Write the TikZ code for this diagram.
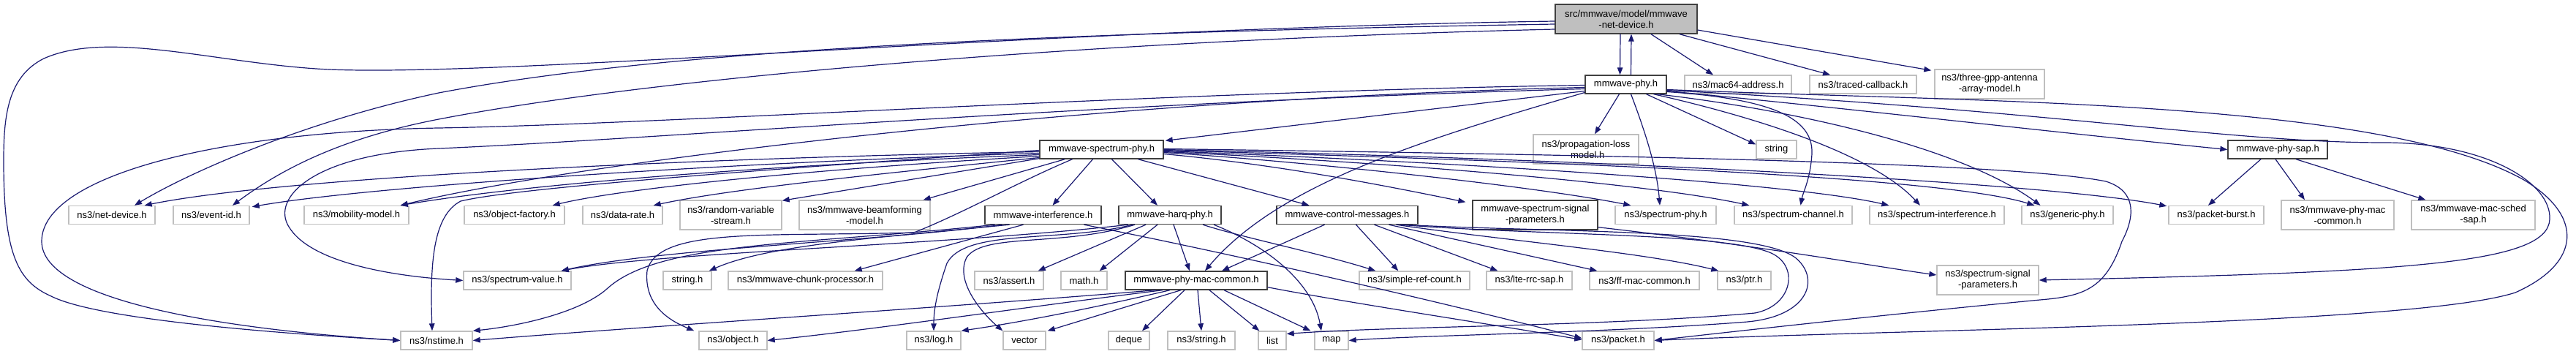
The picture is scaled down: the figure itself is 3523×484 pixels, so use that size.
\documentclass[tikz,border=0pt]{standalone}
\usepackage{fontspec}
\setmainfont{Liberation Sans}
\usetikzlibrary{arrows.meta, calc}
\definecolor{edgeblue}{RGB}{25,25,112}
\definecolor{boxgray}{RGB}{191,191,191}
\definecolor{boxdark}{RGB}{64,64,64}
\tikzset{
  extfile/.style={
    rectangle, draw=boxgray, line width=1.4pt,
    minimum height=25pt, inner sep=0pt,
    align=center, font=\fontsize{13}{15}\selectfont
  },
  ownfile/.style={extfile, draw=boxdark},
  rootfile/.style={ownfile, fill=boxgray},
  tall/.style={minimum height=40pt},
  incl/.style={line width=1.2pt, draw=edgeblue, -{Triangle[length=10pt, width=7.5pt]}},
}

\begin{document}
\begin{tikzpicture}[x=1pt, y=-1pt]
  \useasboundingbox (0,0) rectangle (3523,484);

  % top rows
  \node (root)      [rootfile, tall, minimum width=194pt] at (2224,26)     {src/mmwave/model/mmwave\\-net-device.h};
  \node (phy)       [ownfile, minimum width=111pt]        at (2223.5,115.5) {mmwave-phy.h};
  \node (mac64)     [extfile, minimum width=146pt]        at (2377,115.5)  {ns3/mac64-address.h};
  \node (traced)    [extfile, minimum width=146pt]        at (2548,115.5)  {ns3/traced-callback.h};
  \node (threegpp)  [extfile, tall, minimum width=150pt]  at (2721,115)    {ns3/three-gpp-antenna\\-array-model.h};
  \node (mmspecphy) [ownfile, minimum width=169pt]        at (1506.5,204.5) {mmwave-spectrum-phy.h};
  \node (proploss)  [extfile, tall, minimum width=144pt]  at (2169,204)    {ns3/propagation-loss\\-model.h};
  \node (stringstd) [extfile, minimum width=55pt]         at (2429.5,204.5) {string};
  \node (physap)    [ownfile, minimum width=136pt]        at (3115,204.5)  {mmwave-phy-sap.h};

  % third row
  \node (netdev)      [extfile, minimum width=118pt]       at (153,294)    {ns3/net-device.h};
  \node (eventid)     [extfile, minimum width=104pt]       at (289,294)    {ns3/event-id.h};
  \node (mobility)    [extfile, minimum width=143pt]       at (487.5,294)  {ns3/mobility-model.h};
  \node (objfactory)  [extfile, minimum width=137pt]       at (703.5,294)  {ns3/object-factory.h};
  \node (datarate)    [extfile, minimum width=109pt]       at (851.5,294)  {ns3/data-rate.h};
  \node (randvar)     [extfile, tall, minimum width=139pt] at (999.5,294)  {ns3/random-variable\\-stream.h};
  \node (beamform)    [extfile, tall, minimum width=179pt] at (1182.5,294) {ns3/mmwave-beamforming\\-model.h};
  \node (interf)      [ownfile, minimum width=159pt]       at (1426.5,294) {mmwave-interference.h};
  \node (harq)        [ownfile, minimum width=140pt]       at (1600,294)   {mmwave-harq-phy.h};
  \node (ctrlmsg)     [ownfile, minimum width=193pt]       at (1842.5,294) {mmwave-control-messages.h};
  \node (mmsigparams) [ownfile, tall, minimum width=171pt] at (2099.5,294) {mmwave-spectrum-signal\\-parameters.h};
  \node (specphy)     [extfile, minimum width=138pt]       at (2278,294)   {ns3/spectrum-phy.h};
  \node (specchan)    [extfile, minimum width=161pt]       at (2452.5,294) {ns3/spectrum-channel.h};
  \node (specintf)    [extfile, minimum width=184pt]       at (2649,294)   {ns3/spectrum-interference.h};
  \node (genphy)      [extfile, minimum width=125pt]       at (2827.5,294) {ns3/generic-phy.h};
  \node (packetburst) [extfile, minimum width=130pt]       at (3031,294)   {ns3/packet-burst.h};
  \node (nsphymac)    [extfile, tall, minimum width=154pt] at (3197,294)   {ns3/mmwave-phy-mac\\-common.h};
  \node (schedsap)    [extfile, tall, minimum width=169pt] at (3382.5,294) {ns3/mmwave-mac-sched\\-sap.h};

  % fourth row
  \node (specvalue)  [extfile, minimum width=147pt]       at (707.5,383.5)  {ns3/spectrum-value.h};
  \node (stringh)    [extfile, minimum width=66pt]        at (940,383.5)    {string.h};
  \node (chunkproc)  [extfile, minimum width=211pt]       at (1101.5,383.5) {ns3/mmwave-chunk-processor.h};
  \node (assert)     [extfile, minimum width=94pt]        at (1380,383.5)   {ns3/assert.h};
  \node (math)       [extfile, minimum width=63pt]        at (1482.5,383.5) {math.h};
  \node (phymac)     [ownfile, minimum width=194pt]       at (1636,383.5)   {mmwave-phy-mac-common.h};
  \node (simplerc)   [extfile, minimum width=151pt]       at (1934.5,383.5) {ns3/simple-ref-count.h};
  \node (lterrc)     [extfile, minimum width=117pt]       at (2091.5,383.5) {ns3/lte-rrc-sap.h};
  \node (ffmac)      [extfile, minimum width=150pt]       at (2249,383.5)   {ns3/ff-mac-common.h};
  \node (ptr)        [extfile, minimum width=73pt]        at (2385.5,383.5) {ns3/ptr.h};
  \node (sigparams)  [extfile, tall, minimum width=139pt] at (2718.5,383)   {ns3/spectrum-signal\\-parameters.h};

  % bottom row
  \node (nstime)   [extfile, minimum width=98pt] at (597,465.5)  {ns3/nstime.h};
  \node (object)   [extfile, minimum width=93pt] at (1002.5,465.5) {ns3/object.h};
  \node (log)      [extfile, minimum width=74pt] at (1277,465.5) {ns3/log.h};
  \node (vector)   [extfile, minimum width=58pt] at (1401,465.5) {vector};
  \node (deque)    [extfile, minimum width=56pt] at (1544,465.5) {deque};
  \node (nsstring) [extfile, minimum width=92pt] at (1643,465.5) {ns3/string.h};
  \node (list)     [extfile, minimum width=38pt] at (1740,465.5) {list};
  \node (map)      [extfile, minimum width=46pt] at (1821,465.5) {map};
  \node (packet)   [extfile, minimum width=98pt] at (2213,465.5) {ns3/packet.h};

  % mmwave-net-device.h
  \draw [incl] ($(root.south)+(-8,0)$) -- ($(phy.north)+(-8,0)$);
  \draw [incl] ($(root.south)+(34,0)$) -- ($(mac64.north)+(-34,0)$);
  \draw [incl] ($(root.south)+(73,0)$) -- ($(traced.north)+(-45,0)$);
  \draw [incl] ($(root.east)+(0,15)$) -- ($(threegpp.north west)+(-4,2)$);
  \draw [incl] ($(root.west)+(0,3)$) .. controls (1400,40) and (700,105) .. (450,95)
    .. controls (300,88) and (150,40) .. (60,80) .. controls (10,105) and (5,160) .. (5,220)
    .. controls (5,350) and (25,385) .. (70,405) .. controls (140,440) and (420,458) .. (nstime.west);
  \draw [incl] ($(root.west)+(0,7)$) .. controls (1400,45) and (900,70) .. (600,127)
    .. controls (420,165) and (260,235) .. ($(netdev.north)+(31,0)$);
  \draw [incl] ($(root.west)+(0,14)$) .. controls (1500,55) and (900,105) .. (600,163)
    .. controls (460,190) and (380,235) .. ($(eventid.north)+(29,0)$);

  % mmwave-phy.h
  \draw [incl] ($(phy.north)+(7,0)$) -- ($(root.south)+(7,0)$);
  \draw [incl] ($(phy.west)+(0,9)$) -- ($(mmspecphy.north east)+(2,1)$);
  \draw [incl] ($(phy.west)+(0,1)$) .. controls (1600,125) and (900,170) .. (600,175)
    .. controls (300,180) and (57,240) .. (57,330) .. controls (57,410) and (300,450) .. (nstime.west);
  \draw [incl] ($(phy.west)+(0,6)$) .. controls (1500,140) and (900,190) .. (600,203)
    .. controls (430,210) and (370,270) .. (395,310) .. controls (425,360) and (540,378) .. (specvalue.west);
  \draw [incl] ($(phy.west)+(0,4)$) .. controls (1500,135) and (800,220) .. ($(mobility.north east)+(-12,0)$);
  \draw [incl] ($(phy.west)+(0,11)$) .. controls (1950,190) and (1750,250) .. ($(phymac.north)+(12,0)$);
  \draw [incl] ($(phy.south)+(-9,0)$) -- ($(proploss.north)+(12,0)$);
  \draw [incl] ($(phy.south)+(7,0)$) .. controls (2250,180) and (2266,230) .. ($(specphy.north)+(-8,0)$);
  \draw [incl] ($(phy.south)+(28,0)$) -- ($(stringstd.west)+(0,-7)$);
  \draw [incl] ($(phy.east)+(0,10)$) .. controls (2420,135) and (2480,160) .. (2478,210)
    .. controls (2476,245) and (2466,262) .. ($(specchan.north)+(10,0)$);
  \draw [incl] ($(phy.south)+(38,0)$) .. controls (2400,160) and (2560,210) .. ($(specintf.north)+(-23,0)$);
  \draw [incl] ($(phy.south)+(43,0)$) .. controls (2450,150) and (2680,200) .. ($(genphy.north)+(-37,0)$);
  \draw [incl] ($(phy.east)+(0,9)$) .. controls (2500,145) and (2800,180) .. (physap.west);
  \draw [incl] ($(phy.east)+(0,7)$) .. controls (2700,140) and (3250,135) .. (3450,245)
    .. controls (3535,295) and (3530,360) .. (3440,400) .. controls (3300,445) and (2600,450) .. (packet.east);
  \draw [incl] ($(phy.east)+(0,8)$) .. controls (2800,150) and (3050,195) .. (3260,195)
    .. controls (3400,195) and (3490,250) .. (3487,300) .. controls (3484,360) and (3300,372) .. (sigparams.east);

  % mmwave-phy-sap.h
  \draw [incl] ($(physap.south)+(-23,0)$) -- ($(packetburst.north)+(-11,0)$);
  \draw [incl] ($(physap.south)+(-3,0)$) -- ($(nsphymac.north)+(-45,0)$);
  \draw [incl] ($(physap.south)+(25,0)$) -- ($(schedsap.north west)+(20,0)$);

  % mmwave-spectrum-phy.h
  \draw [incl] ($(mmspecphy.west)+(0,3)$) .. controls (1000,215) and (400,240) .. ($(netdev.north east)+(-15,0)$);
  \draw [incl] ($(mmspecphy.west)+(0,5)$) .. controls (1000,222) and (500,255) .. ($(eventid.north east)+(3,2)$);
  \draw [incl] ($(mmspecphy.west)+(0,7)$) .. controls (1000,228) and (700,255) .. ($(mobility.north east)+(-12,0)$);
  \draw [incl] ($(mmspecphy.west)+(0,9)$) .. controls (1100,232) and (850,258) .. ($(objfactory.north east)+(-17,0)$);
  \draw [incl] ($(mmspecphy.west)+(0,11)$) .. controls (1200,238) and (1000,258) .. ($(datarate.north east)+(-13,0)$);
  \draw [incl] ($(mmspecphy.south west)+(0,-1)$) -- ($(randvar.north east)+(0,1)$);
  \draw [incl] ($(mmspecphy.south west)+(35,0)$) -- ($(beamform.north east)+(-10,0)$);
  \draw [incl] ($(mmspecphy.west)+(0,1)$) .. controls (1000,235) and (700,258) .. (630,275)
    .. controls (592,295) and (588,360) .. ($(nstime.north)+(-6,0)$);
  \draw [incl] ($(mmspecphy.south)+(-40,0)$) .. controls (1390,250) and (1320,290) .. (1250,318)
    .. controls (1050,324) and (900,310) .. (885,370) .. controls (880,420) and (920,440) .. ($(object.north west)+(-6,0)$);
  \draw [incl] ($(mmspecphy.south)+(-12,0)$) -- ($(interf.north)+(13,0)$);
  \draw [incl] ($(mmspecphy.south)+(14,0)$) -- ($(harq.north)+(-17,0)$);
  \draw [incl] ($(mmspecphy.south)+(50,0)$) -- ($(ctrlmsg.north)+(-52,0)$);
  \draw [incl] ($(mmspecphy.east)+(0,6)$) .. controls (1750,225) and (1900,255) .. ($(mmsigparams.north west)+(-9,3)$);
  \draw [incl] ($(mmspecphy.east)+(0,4)$) .. controls (1800,222) and (2100,255) .. ($(specphy.north west)+(22,0)$);
  \draw [incl] ($(mmspecphy.east)+(0,3)$) .. controls (1900,222) and (2250,250) .. ($(specchan.north west)+(21,0)$);
  \draw [incl] ($(mmspecphy.east)+(0,2)$) .. controls (2000,222) and (2450,250) .. ($(specintf.north west)+(27,0)$);
  \draw [incl] ($(mmspecphy.east)+(0,1)$) .. controls (2100,220) and (2650,240) .. ($(genphy.north west)+(18,0)$);
  \draw [incl] (mmspecphy.east) .. controls (2200,218) and (2800,250) .. ($(packetburst.north west)+(-2,1)$);
  \draw [incl] ($(mmspecphy.east)+(0,-1)$) .. controls (2200,212) and (2750,222) .. (2880,248)
    .. controls (2925,262) and (2918,300) .. (2902,330) .. controls (2880,395) and (2850,405) .. (2790,410)
    .. controls (2600,428) and (2400,450) .. (packet.east);

  % mmwave-interference.h
  \draw [incl] ($(interf.south)+(-56,0)$) .. controls (1200,330) and (900,340) .. ($(specvalue.north east)+(-14,0)$);
  \draw [incl] ($(interf.south)+(-27,0)$) -- ($(chunkproc.north east)+(-39,0)$);
  \draw [incl] ($(interf.south)+(-46,0)$) .. controls (1200,325) and (1050,335) .. ($(stringh.north east)+(-4,0)$);
  \draw [incl] ($(interf.south)+(-66,0)$) .. controls (1100,335) and (900,330) .. (830,395)
    .. controls (790,430) and (700,447) .. (nstime.north east);
  \draw [incl] ($(interf.south)+(56,0)$) .. controls (1700,350) and (2000,420) .. ($(packet.west)+(0,-3)$);

  % mmwave-harq-phy.h
  \draw [incl] ($(harq.south)+(-57,0)$) .. controls (1300,335) and (900,345) .. ($(specvalue.north east)+(-14,0)$);
  \draw [incl] ($(harq.south)+(-33,0)$) -- ($(assert.north east)+(-8,0)$);
  \draw [incl] ($(harq.south)+(-17,0)$) -- ($(math.north east)+(-11,0)$);
  \draw [incl] ($(harq.south)+(5,0)$) -- ($(phymac.north)+(-9,0)$);
  \draw [incl] ($(harq.south)+(-51,0)$) .. controls (1450,332) and (1320,312) .. (1295,360)
    .. controls (1283,395) and (1277,420) .. (log.north);
  \draw [incl] ($(harq.south)+(-48,0)$) .. controls (1450,338) and (1345,318) .. (1322,352)
    .. controls (1305,385) and (1345,430) .. (vector.north west);
  \draw [incl] ($(harq.south)+(45,0)$) .. controls (1700,325) and (1800,345) .. ($(simplerc.north west)+(23,0)$);
  \draw [incl] ($(harq.south)+(60,0)$) .. controls (1730,335) and (1795,385) .. ($(map.north)+(-14,0)$);

  % mmwave-control-messages.h
  \draw [incl] ($(ctrlmsg.south)+(-31,0)$) -- ($(phymac.north)+(35,0)$);
  \draw [incl] ($(ctrlmsg.south)+(12,0)$) -- ($(simplerc.north west)+(54,0)$);
  \draw [incl] ($(ctrlmsg.south)+(37,0)$) -- ($(lterrc.north west)+(16,0)$);
  \draw [incl] ($(ctrlmsg.south)+(57,0)$) -- ($(ffmac.north west)+(11,0)$);
  \draw [incl] ($(ctrlmsg.south)+(67,0)$) .. controls (2050,328) and (2250,345) .. ($(ptr.north west)+(2,0)$);
  \draw [incl] ($(ctrlmsg.south)+(72,0)$) .. controls (2100,322) and (2350,318) .. (2420,345)
    .. controls (2462,362) and (2452,418) .. (2400,428) .. controls (2200,446) and (1900,446) .. ($(list.east)+(0,-9)$);
  \draw [incl] ($(ctrlmsg.south)+(77,0)$) .. controls (2120,318) and (2400,312) .. (2455,352)
    .. controls (2490,380) and (2475,432) .. (2390,440) .. controls (2200,455) and (1950,458) .. (map.east);

  % mmwave-spectrum-signal-parameters.h
  \draw [incl] ($(mmsigparams.south east)+(0,-4)$) .. controls (2400,335) and (2550,362) .. ($(sigparams.west)+(0,-7)$);

  % mmwave-phy-mac-common.h
  \draw [incl] ($(phymac.south)+(-56,0)$) .. controls (1300,420) and (900,445) .. (nstime.east);
  \draw [incl] ($(phymac.south)+(-46,0)$) .. controls (1400,420) and (1200,450) .. (object.east);
  \draw [incl] ($(phymac.south)+(-36,0)$) .. controls (1500,420) and (1400,440) .. (log.north east);
  \draw [incl] ($(phymac.south)+(-21,0)$) -- ($(vector.north east)+(2,0)$);
  \draw [incl] ($(phymac.south)+(-16,0)$) -- ($(deque.north)+(18,0)$);
  \draw [incl] ($(phymac.south)+(2,0)$) -- (nsstring.north);
  \draw [incl] ($(phymac.south)+(18,0)$) -- ($(list.north west)+(2,0)$);
  \draw [incl] ($(phymac.south)+(38,0)$) -- ($(map.north west)+(-5,0)$);
  \draw [incl] ($(phymac.south east)+(0,-4)$) .. controls (1850,415) and (2050,445) .. ($(packet.west)+(0,-1)$);
\end{tikzpicture}
\end{document}
